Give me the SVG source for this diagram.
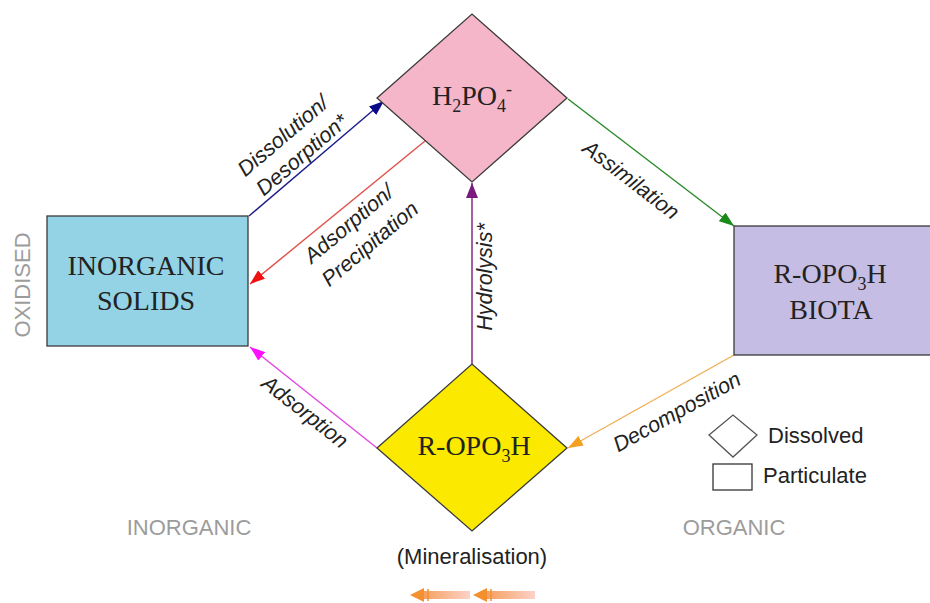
<svg xmlns="http://www.w3.org/2000/svg" width="930" height="603" viewBox="0 0 930 603">
<style>
.node{stroke:#3a3a3a;stroke-width:1.3}
.ser{font-family:"Liberation Serif","Times New Roman",serif;font-size:28px;fill:#222;text-anchor:middle}
.lbl{font-family:"Liberation Sans",Arial,sans-serif;font-style:italic;font-size:21.5px;fill:#222;text-anchor:middle;dominant-baseline:central}
.gray{font-family:"Liberation Sans",Arial,sans-serif;font-size:22px;fill:#9c9c9c;text-anchor:middle}
.leg{font-family:"Liberation Sans",Arial,sans-serif;font-size:22px;fill:#222}
.con{fill:none;stroke-width:1.4}
</style>
<defs>
<marker id="mBlue" markerUnits="userSpaceOnUse" markerWidth="15" markerHeight="11" viewBox="0 0 15 11" refX="15" refY="5.5" orient="auto"><path d="M0,0 L15,5.5 L0,11 z" fill="#0a0a8a"/></marker>
<marker id="mRed" markerUnits="userSpaceOnUse" markerWidth="15" markerHeight="11" viewBox="0 0 15 11" refX="15" refY="5.5" orient="auto"><path d="M0,0 L15,5.5 L0,11 z" fill="#f01010"/></marker>
<marker id="mPurple" markerUnits="userSpaceOnUse" markerWidth="15" markerHeight="12" viewBox="0 0 15 12" refX="15" refY="6" orient="auto"><path d="M0,0 L15,6 L0,12 z" fill="#7a1a7e"/></marker>
<marker id="mGreen" markerUnits="userSpaceOnUse" markerWidth="15" markerHeight="11" viewBox="0 0 15 11" refX="15" refY="5.5" orient="auto"><path d="M0,0 L15,5.5 L0,11 z" fill="#1a8a1a"/></marker>
<marker id="mOrange" markerUnits="userSpaceOnUse" markerWidth="15" markerHeight="11" viewBox="0 0 15 11" refX="15" refY="5.5" orient="auto"><path d="M0,0 L15,5.5 L0,11 z" fill="#f5a020"/></marker>
<marker id="mMag" markerUnits="userSpaceOnUse" markerWidth="15" markerHeight="11" viewBox="0 0 15 11" refX="15" refY="5.5" orient="auto"><path d="M0,0 L15,5.5 L0,11 z" fill="#ff10ff"/></marker>
<linearGradient id="fade" x1="0" y1="0" x2="1" y2="0"><stop offset="0" stop-color="#f7a060"/><stop offset="1" stop-color="#fbd2c8"/></linearGradient>
</defs>

<g id="connectors">
<line class="con" x1="249" y1="216" x2="384" y2="101" stroke="#1e1e8a" marker-end="url(#mBlue)"/>
<line class="con" x1="425" y1="141" x2="250" y2="284" stroke="#e0504a" marker-end="url(#mRed)"/>
<line class="con" x1="472" y1="364" x2="472" y2="183" stroke="#7a1a7e" stroke-width="3" marker-end="url(#mPurple)"/>
<line class="con" x1="568" y1="99" x2="734" y2="226" stroke="#2a8a2a" marker-end="url(#mGreen)"/>
<line class="con" x1="734" y1="355" x2="568" y2="448" stroke="#f0b058" marker-end="url(#mOrange)"/>
<line class="con" x1="377" y1="448" x2="250" y2="347" stroke="#e048e0" marker-end="url(#mMag)"/>
</g>

<g id="labels">
<text class="lbl" transform="translate(283,136) rotate(-40.5)">Dissolution/</text>
<text class="lbl" transform="translate(302,155) rotate(-40.5)">Desorption*</text>
<text class="lbl" transform="translate(349,224) rotate(-40)">Adsorption/</text>
<text class="lbl" transform="translate(370,244) rotate(-40)">Precipitation</text>
<text class="lbl" transform="translate(485,277) rotate(-90)">Hydrolysis*</text>
<text class="lbl" transform="translate(631,180) rotate(37.5)">Assimilation</text>
<text class="lbl" transform="translate(677,412) rotate(-29)">Decomposition</text>
<text class="lbl" transform="translate(305,412) rotate(38.3)">Adsorption</text>
</g>

<g id="h2po4">
<polygon class="node" points="377,98 472,14 567,98 472,182" fill="#f5b6c9"/>
<text class="ser" x="472" y="105">H<tspan font-size="18" dy="7">2</tspan><tspan dy="-7">PO</tspan><tspan font-size="18" dy="7">4</tspan><tspan font-size="18" dy="-17">-</tspan></text>
</g>

<g id="inorganic-solids">
<rect class="node" x="47" y="216" width="201" height="130" fill="#94d3e6"/>
<text class="ser" x="146" y="275" fill="#1a3038">INORGANIC</text>
<text class="ser" x="146" y="310" fill="#1a3038">SOLIDS</text>
</g>

<g id="biota">
<rect class="node" x="734" y="226" width="200" height="129" fill="#c5bde4"/>
<text class="ser" x="830" y="283">R-OPO<tspan font-size="18" dy="7">3</tspan><tspan dy="-7">H</tspan></text>
<text class="ser" x="831" y="319">BIOTA</text>
</g>

<g id="ropo3h">
<polygon class="node" points="377,448 472,364 567,448 472,531" fill="#fbea00"/>
<text class="ser" x="474" y="455">R-OPO<tspan font-size="18" dy="7">3</tspan><tspan dy="-7">H</tspan></text>
</g>

<g id="legend">
<polygon points="709,435 733,415 757,435 733,457" fill="#fff" stroke="#555" stroke-width="1.3"/>
<text class="leg" x="768" y="443">Dissolved</text>
<rect x="713" y="464" width="39" height="26" fill="#fff" stroke="#333" stroke-width="1.3"/>
<text class="leg" x="763" y="483">Particulate</text>
</g>

<g id="axis-labels">
<text class="gray" transform="translate(30,285) rotate(-90)">OXIDISED</text>
<text class="gray" x="189" y="535">INORGANIC</text>
<text class="gray" x="734" y="535">ORGANIC</text>
<text class="leg" x="472" y="564" text-anchor="middle">(Mineralisation)</text>
</g>

<g id="mineralisation-arrows">
<rect x="424" y="591" width="46" height="8" fill="url(#fade)"/>
<polygon points="410,595 424,588 424,602" fill="#f59030"/>
<line x1="428" y1="589" x2="428" y2="601" stroke="#f59030" stroke-width="1.5"/>
<rect x="487" y="591" width="48" height="8" fill="url(#fade)"/>
<polygon points="473,595 487,588 487,602" fill="#f59030"/>
<line x1="491" y1="589" x2="491" y2="601" stroke="#f59030" stroke-width="1.5"/>
</g>
</svg>
